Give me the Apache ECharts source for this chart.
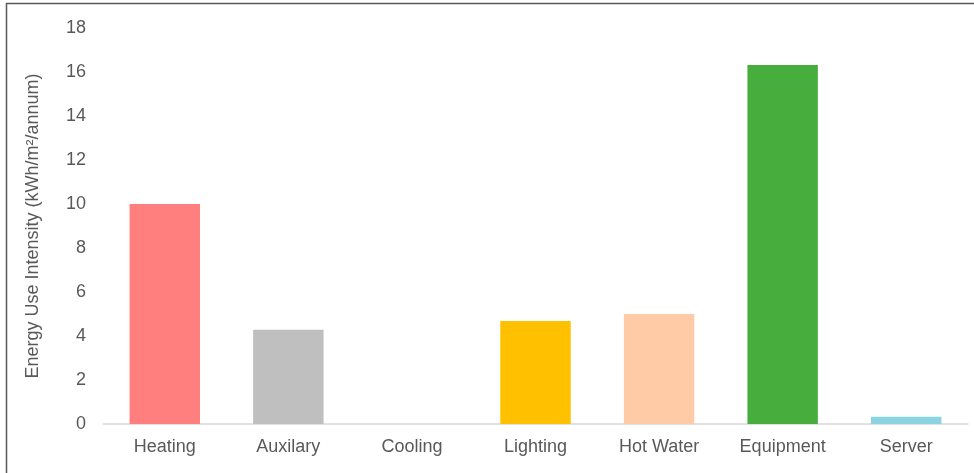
<!DOCTYPE html>
<html lang="en">
  <head>
    <meta charset="UTF-8" />
    <title>Energy Use Intensity</title>
    <script src="https://cdn.jsdelivr.net/npm/echarts@6/dist/echarts.min.js"></script>
    <style>
      html, body { margin: 0; padding: 0; background: #fff; }
      #main { width: 974px; height: 473px; }
    </style>
  </head>
  <body>
    <div id="main"></div>
    <script type="text/javascript">
      // data
      var categories = ["Heating", "Auxilary", "Cooling", "Lighting", "Hot Water", "Equipment", "Server"];
      var values = [10.0, 4.28, 0, 4.68, 5.0, 16.32, 0.33];
      var barColors = ["#ff7f7f", "#bfbfbf", "#9dc3e6", "#ffc000", "#ffcba6", "#47ad3d", "#8bd5e2"];

      var myChart = echarts.init(document.getElementById("main"));

      var option = {
        animation: false,
        textStyle: { fontFamily: "Liberation Sans, Arial, sans-serif" },
        graphic: [
          {
            type: "rect",
            shape: { x: 6.5, y: 3.5, width: 1000, height: 1000 },
            style: { fill: "none", stroke: "#595959", lineWidth: 1.5 },
            silent: true
          }
        ],
        grid: { left: 103, right: 6, top: 28, bottom: 49 },
        xAxis: {
          type: "category",
          data: categories,
          axisLine: { lineStyle: { color: "#d9d9d9", width: 1.5 } },
          axisTick: { show: false },
          axisLabel: { color: "#595959", fontSize: 18, margin: 14 }
        },
        yAxis: {
          type: "value",
          min: 0,
          max: 18,
          interval: 2,
          name: "Energy Use Intensity (kWh/m²/annum)",
          nameLocation: "middle",
          nameGap: 61,
          nameTextStyle: { color: "#595959", fontSize: 18 },
          splitLine: { show: false },
          axisLine: { show: false },
          axisTick: { show: false },
          axisLabel: { color: "#595959", fontSize: 18, margin: 17 }
        },
        series: [
          {
            type: "bar",
            barWidth: "57%",
            data: values.map(function (v, i) {
              return { value: v, itemStyle: { color: barColors[i] } };
            })
          }
        ]
      };
      myChart.setOption(option);
    </script>
  </body>
</html>
